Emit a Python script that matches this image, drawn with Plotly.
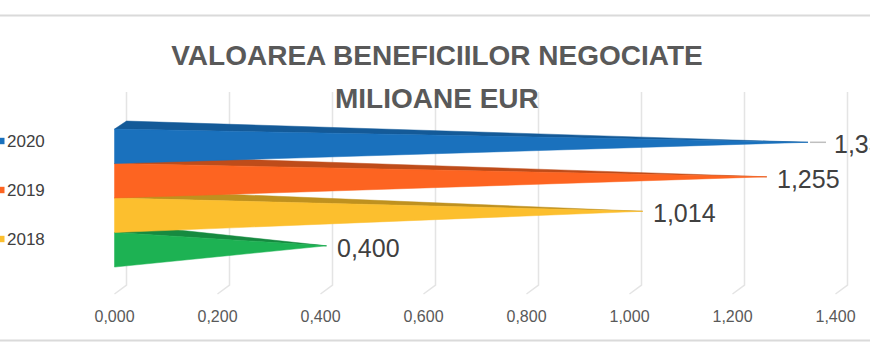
import plotly.graph_objects as go

# ---------------- data ----------------
categories = ["2020", "2019", "2018", "2017"]
values = [1.335, 1.255, 1.014, 0.400]
in_legend = [True, True, True, False]
tick_vals = [0.0, 0.2, 0.4, 0.6, 0.8, 1.0, 1.2, 1.4]
title_lines = ["VALOAREA BENEFICIILOR NEGOCIATE", "MILIOANE EUR"]

# ---------------- styles ----------------
front_colors = ["#1A71BD", "#FD6421", "#FCBF2E", "#1DB253"]
top_colors = ["#145A98", "#BE4C1A", "#BF911F", "#168A40"]
FONT = "Liberation Sans, Arial, sans-serif"

W, H = 870, 355
M_B = 50
PLOT_H = H - M_B
PX_PER_UNIT = 515.0
X0_PX = 114.5
BAND_PX = 34.5
Y0_PX = 146.3

x_min = -X0_PX / PX_PER_UNIT
x_max = (W - X0_PX) / PX_PER_UNIT
y_top = -Y0_PX / BAND_PX
y_bot = (PLOT_H - Y0_PX) / BAND_PX

DX = 12 / PX_PER_UNIT        # 3D depth offset (x)
DY = 8 / BAND_PX             # 3D depth offset (y)
GRID_TOP = (92 - Y0_PX) / BAND_PX
FLOOR_BACK = (285 - Y0_PX) / BAND_PX
FLOOR_FRONT = (294 - Y0_PX) / BAND_PX


def ypaper(px):
    return 1 - px / PLOT_H


fig = go.Figure()

# back wall / floor gridlines
gx, gy = [], []
for v in tick_vals:
    gx += [v + DX, v + DX, v, None]
    gy += [GRID_TOP, FLOOR_BACK, FLOOR_FRONT, None]
fig.add_trace(go.Scatter(x=gx, y=gy, mode="lines",
                         line=dict(color="#E4E4E4", width=1.5),
                         hoverinfo="skip", showlegend=False))

# pyramid bars, bottom one first so upper ones sit in front
for i in reversed(range(len(categories))):
    v = values[i]
    tip_x, tip_y = v + DX / 2, i - DY / 2
    top, bot = i - 0.5, i + 0.5
    fig.add_trace(go.Scatter(
        x=[0, DX, tip_x, 0], y=[top, top - DY, tip_y, top],
        fill="toself", fillcolor=top_colors[i], mode="lines",
        line=dict(color=top_colors[i], width=0.5),
        hoverinfo="skip", showlegend=False, name=categories[i]))
    fig.add_trace(go.Scatter(
        x=[0, 0, tip_x, 0], y=[top, bot, tip_y, top],
        fill="toself", fillcolor=front_colors[i], mode="lines",
        line=dict(color=front_colors[i], width=0.5),
        hoverinfo="skip", showlegend=False, name=categories[i]))

annotations = []
shapes = []

# data labels
for i, v in enumerate(values):
    tip_x = v + DX / 2
    shift = 24 if i == 0 else 8
    annotations.append(dict(
        x=tip_x, y=i - DY / 4, xref="x", yref="y", xanchor="left", yanchor="middle",
        xshift=shift, showarrow=False, text=f"{v:.3f}".replace(".", ","),
        font=dict(family=FONT, size=25, color="#404040")))
    if i == 0:
        shapes.append(dict(type="line", xref="x", yref="y",
                           x0=tip_x + 2 / PX_PER_UNIT, x1=tip_x + 18 / PX_PER_UNIT,
                           y0=i - DY / 2, y1=i - DY / 2,
                           line=dict(color="#BFBFBF", width=1.5)))

# manual legend (cropped at left edge)
leg_px = [141, 190, 239]
k = 0
for i, cat in enumerate(categories):
    if not in_legend[i]:
        continue
    cy = leg_px[k]
    k += 1
    shapes.append(dict(type="rect", xref="paper", yref="paper",
                       x0=-2 / W, x1=4.5 / W, y0=ypaper(cy + 3.2), y1=ypaper(cy - 3.2),
                       fillcolor=front_colors[i], line=dict(width=0)))
    annotations.append(dict(x=5 / W, y=ypaper(cy), xref="paper", yref="paper",
                            xanchor="left", yanchor="middle", showarrow=False, text=cat,
                            font=dict(family=FONT, size=17, color="#404040")))

# title second line
annotations.append(dict(x=437 / W, y=ypaper(98), xref="paper", yref="paper",
                        xanchor="center", yanchor="middle", showarrow=False,
                        text=f"<b>{title_lines[1]}</b>",
                        font=dict(family=FONT, size=28, color="#595959")))

# frame lines
for py in (15.5, 340.5):
    shapes.append(dict(type="line", xref="paper", yref="paper", x0=0, x1=1,
                       y0=ypaper(py), y1=ypaper(py),
                       line=dict(color="#DADADA", width=2)))

fig.update_layout(
    width=W, height=H,
    margin=dict(l=0, r=0, t=0, b=M_B),
    paper_bgcolor="white", plot_bgcolor="white",
    separators=",.",
    title=dict(text=f"<b>{title_lines[0]}</b>", x=437 / W, xanchor="center",
               y=1 - 55 / H, yanchor="middle",
               font=dict(family=FONT, size=28, color="#595959")),
    xaxis=dict(range=[x_min, x_max], tickvals=tick_vals, tickformat=".3f",
               showgrid=False, zeroline=False, showline=False, ticks="",
               tickfont=dict(family=FONT, size=16, color="#595959"),
               fixedrange=True),
    yaxis=dict(range=[y_bot, y_top], visible=False, fixedrange=True),
    annotations=annotations,
    shapes=shapes,
    showlegend=False,
)

fig.write_html("out.html", config={"displayModeBar": False},
               post_script="document.body.style.margin='0';document.body.style.overflow='hidden';")
